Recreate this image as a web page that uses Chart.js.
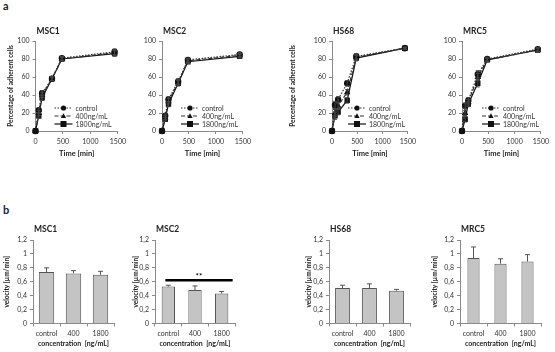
<!DOCTYPE html>
<html>
<head>
<meta charset="utf-8">
<script src="https://cdn.jsdelivr.net/npm/chart.js@4.4.1/dist/chart.umd.min.js"></script>
<style>
  body { margin: 0; background: #fff; width: 555px; height: 352px; overflow: hidden; position: relative; font-family: Lato, "Open Sans", sans-serif; }
  .panel { position: absolute; }
  .tag { position: absolute; font: bold 11px Lato, sans-serif; color: #222; }
</style>
</head>
<body>
<div class="tag" style="left:3px;top:-1px">a</div>
<div class="tag" style="left:3px;top:203px">b</div>
<script>
// ---- data: adhesion over time (top row) ----
const timePoints = [0, 60, 120, 300, 480, 1440];
const seriesNames = ["control", "400ng/mL", "1800ng/mL"];

const msc1Control = [0, 23, 42, 58, 81, 88];
const msc1Low = [0, 20, 40, 58, 80, 87];
const msc1High = [0, 17, 37, 58, 80, 86];
const msc1Err = [0, 3, 3, 2, 2, 3];

const msc2Control = [0, 17, 35, 55, 79, 85];
const msc2Low = [0, 15, 33, 54, 78, 84];
const msc2High = [0, 13, 30, 53, 77, 83];
const msc2Err = [0, 2, 3, 3, 2, 2];

const hs68Control = [0, 29, 35, 53, 83, 92];
const hs68Low = [0, 20, 28, 43, 82, 92];
const hs68High = [0, 17, 21, 34, 81, 92];
const hs68Err = [0, 4, 3, 3, 3, 1];

const mrc5Control = [0, 28, 34, 63, 80, 91];
const mrc5Low = [0, 20, 32, 60, 79, 90];
const mrc5High = [0, 13, 30, 53, 79, 90];
const mrc5Err = [0, 3, 3, 4, 2, 2];

// ---- data: migration velocity (bottom row) ----
const concLabels = ["control", "400", "1800"];
const velMSC1 = [0.74, 0.72, 0.70];
const velErrMSC1 = [0.06, 0.04, 0.05];
const velMSC2 = [0.53, 0.48, 0.43];
const velErrMSC2 = [0.02, 0.06, 0.03];
const velHS68 = [0.51, 0.51, 0.47];
const velErrHS68 = [0.04, 0.06, 0.02];
const velMRC5 = [0.94, 0.86, 0.89];
const velErrMRC5 = [0.16, 0.07, 0.10];
const velTickLabels = ["0", "0,2", "0,4", "0,6", "0,8", "1", "1,2"];
const sigLevelMSC2 = 0.62;

const FONT = "Lato, 'Open Sans', sans-serif";
const INK = "#222";
const AXIS = "#8a8a8a";

function addCanvas(x, y, w, h) {
  const d = document.createElement("div");
  d.className = "panel";
  d.style.cssText = `left:${x}px;top:${y}px;width:${w}px;height:${h}px`;
  const c = document.createElement("canvas");
  d.appendChild(c);
  document.body.appendChild(d);
  return c;
}

function marker(ctx, style, x, y, r) {
  ctx.beginPath();
  if (style === "circle") ctx.arc(x, y, r, 0, Math.PI * 2);
  else if (style === "triangle") {
    ctx.moveTo(x, y - r * 1.1); ctx.lineTo(x + r, y + r * 0.8); ctx.lineTo(x - r, y + r * 0.8); ctx.closePath();
  } else ctx.rect(x - r, y - r, r * 2, r * 2);
  ctx.fill();
}

const panelTitle = {
  id: "panelTitle",
  afterDraw(chart, args, o) {
    if (!o.text) return;
    const ctx = chart.ctx, a = chart.chartArea;
    ctx.save();
    ctx.font = `bold 8.5px ${FONT}`;
    ctx.fillStyle = INK;
    ctx.textBaseline = "middle";
    ctx.fillText(o.text, a.left + 1, a.top + o.dy);
    ctx.restore();
  }
};

const errBars = {
  id: "errBars",
  afterDatasetsDraw(chart, args, o) {
    const ctx = chart.ctx, ys = chart.scales.y;
    chart.data.datasets.forEach((ds, i) => {
      if (!ds.errs) return;
      const meta = chart.getDatasetMeta(i);
      ctx.save();
      ctx.strokeStyle = ds.errColor || "#333";
      ctx.lineWidth = 1;
      meta.data.forEach((el, j) => {
        const e = ds.errs[j];
        if (!e) return;
        const v = ds.data[j].y !== undefined ? ds.data[j].y : ds.data[j];
        const top = ys.getPixelForValue(v + e);
        const bot = o.upOnly ? ys.getPixelForValue(v) : ys.getPixelForValue(v - e);
        const cap = o.cap || 2;
        ctx.beginPath();
        ctx.moveTo(el.x, top); ctx.lineTo(el.x, bot);
        ctx.moveTo(el.x - cap, top); ctx.lineTo(el.x + cap, top);
        if (!o.upOnly) { ctx.moveTo(el.x - cap, bot); ctx.lineTo(el.x + cap, bot); }
        ctx.stroke();
      });
      ctx.restore();
    });
  }
};

const insideLegend = {
  id: "insideLegend",
  afterDraw(chart, args, o) {
    if (!o.show) return;
    const ctx = chart.ctx, a = chart.chartArea;
    chart.data.datasets.forEach((ds, i) => {
      const y = a.bottom - 23 + i * 8;
      const x0 = a.left + o.dx;
      ctx.save();
      ctx.strokeStyle = ds.borderColor;
      ctx.lineWidth = ds.borderWidth;
      ctx.setLineDash(ds.borderDash || []);
      ctx.beginPath(); ctx.moveTo(x0, y); ctx.lineTo(x0 + 18, y); ctx.stroke();
      ctx.fillStyle = ds.pointBackgroundColor;
      marker(ctx, ds.pointStyle, x0 + 9, y, ds.pointRadius);
      ctx.fillStyle = "#333";
      ctx.font = `7px ${FONT}`;
      ctx.textBaseline = "middle";
      ctx.fillText(seriesNames[i], x0 + 21, y + 0.5);
      ctx.restore();
    });
  }
};

const sigBar = {
  id: "sigBar",
  afterDraw(chart, args, o) {
    if (o.value === undefined) return;
    const ctx = chart.ctx, xs = chart.scales.x, ys = chart.scales.y;
    const y = ys.getPixelForValue(o.value);
    const x1 = xs.getPixelForValue(0) - 3, x2 = xs.getPixelForValue(2) + 11;
    ctx.save();
    ctx.strokeStyle = "#000";
    ctx.lineWidth = 2.5;
    ctx.beginPath(); ctx.moveTo(x1, y); ctx.lineTo(x2, y); ctx.stroke();
    ctx.fillStyle = "#000";
    ctx.font = `bold 8px ${FONT}`;
    ctx.textAlign = "center";
    ctx.fillText("**", (x1 + x2) / 2, y - 1);
    ctx.restore();
  }
};

Chart.register(panelTitle, errBars, insideLegend, sigBar);

function axisGrid() {
  return { display: true, drawOnChartArea: false, drawTicks: true, tickLength: 3, color: AXIS };
}

function lineChart(p) {
  const plotTop = 41, plotBottom = 131;
  const [bx, by, bw, bh] = p.box;
  const canvas = addCanvas(bx, by, bw, bh);
  const styles = [
    { pointStyle: "circle", borderDash: [1.5, 1.5], borderColor: "#333" },
    { pointStyle: "triangle", borderDash: [4, 2], borderColor: "#333" },
    { pointStyle: "rect", borderDash: [], borderColor: "#111" }
  ];
  const datasets = p.series.map((vals, i) => ({
    label: seriesNames[i],
    data: timePoints.map((t, j) => ({ x: t, y: vals[j] })),
    errs: p.errs,
    errColor: "#444",
    borderWidth: 1.2,
    pointRadius: i === 2 ? 3 : 2.6,
    pointBackgroundColor: "#111",
    pointBorderColor: "#111",
    clip: false,
    ...styles[i]
  }));
  new Chart(canvas, {
    type: "line",
    data: { datasets },
    options: {
      responsive: true, maintainAspectRatio: false, animation: false, devicePixelRatio: 1,
      layout: { padding: { left: 0, top: plotTop - by, right: bx + bw - p.plot[1], bottom: 0 } },
      plugins: {
        legend: { display: false }, tooltip: { enabled: false },
        panelTitle: { text: p.title, dy: -10 },
        errBars: { cap: 2 },
        insideLegend: { show: true, dx: p.legendDx }
      },
      scales: {
        x: {
          type: "linear", min: 0, max: 1500,
          ticks: { stepSize: 500, font: { size: 7, family: FONT }, color: "#333", padding: 4, maxRotation: 0, callback: v => String(v) },
          grid: axisGrid(), border: { color: AXIS },
          title: { display: true, text: "Time [min]", font: { size: 7.5, weight: "bold", family: FONT }, color: INK, padding: { top: 2, bottom: 4 } },
          afterFit(s) { s.height = by + bh - plotBottom; }
        },
        y: {
          min: 0, max: 100,
          ticks: { stepSize: 20, font: { size: 7, family: FONT }, color: "#333", padding: 3 },
          grid: axisGrid(), border: { color: AXIS },
          title: { display: p.yTitle, text: "Percentage of adherent cells", font: { size: 6.5, weight: "bold", family: FONT }, color: INK, padding: { top: 3, bottom: 2 } },
          afterFit(s) { s.width = p.plot[0] - bx; }
        }
      }
    }
  });
}

function barChart(p) {
  const plotTop = 240, plotBottom = 323.5;
  const [bx, by, bw, bh] = p.box;
  const canvas = addCanvas(bx, by, bw, bh);
  new Chart(canvas, {
    type: "bar",
    data: {
      labels: concLabels,
      datasets: [{
        data: p.values, errs: p.errs, errColor: "#555",
        backgroundColor: "#c4c4c4", borderColor: "#555", borderWidth: 1,
        barPercentage: p.barPct, categoryPercentage: 1
      }]
    },
    options: {
      responsive: true, maintainAspectRatio: false, animation: false, devicePixelRatio: 1,
      layout: { padding: { left: 0, top: plotTop - by, right: bx + bw - p.plot[1], bottom: 0 } },
      plugins: {
        legend: { display: false }, tooltip: { enabled: false },
        panelTitle: { text: p.title, dy: -11 },
        errBars: { cap: 2.5, upOnly: true },
        sigBar: { value: p.sig }
      },
      scales: {
        x: {
          ticks: { font: { size: 7, family: FONT }, color: "#333", padding: 3, maxRotation: 0, minRotation: 0, autoSkip: false },
          grid: { ...axisGrid(), offset: true }, border: { color: AXIS },
          title: { display: true, text: "concentration  [ng/mL]", font: { size: 7, weight: "bold", family: FONT }, color: INK, padding: { top: 2, bottom: 4 } },
          afterFit(s) { s.height = by + bh - plotBottom; }
        },
        y: {
          min: 0, max: 1.2,
          ticks: { stepSize: 0.2, font: { size: 7, family: FONT }, color: "#333", padding: 3, callback: (v, i) => velTickLabels[i] },
          grid: axisGrid(), border: { color: AXIS },
          title: { display: true, text: "velocity [µm/min]", font: { size: 6.5, weight: "bold", family: FONT }, color: INK, padding: { top: 3, bottom: 2 } },
          afterFit(s) { s.width = p.plot[0] - bx; }
        }
      }
    }
  });
}

lineChart({ title: "MSC1", series: [msc1Control, msc1Low, msc1High], errs: msc1Err, box: [4, 24, 126, 138], plot: [35.5, 122.5], yTitle: true, legendDx: 19 });
lineChart({ title: "MSC2", series: [msc2Control, msc2Low, msc2High], errs: msc2Err, box: [135, 24, 120, 138], plot: [162, 248], yTitle: false, legendDx: 19 });
lineChart({ title: "HS68", series: [hs68Control, hs68Low, hs68High], errs: hs68Err, box: [286, 24, 134, 138], plot: [332, 413], yTitle: true, legendDx: 16 });
lineChart({ title: "MRC5", series: [mrc5Control, mrc5Low, mrc5High], errs: mrc5Err, box: [435, 24, 118, 138], plot: [462, 543], yTitle: false, legendDx: 20 });

barChart({ title: "MSC1", values: velMSC1, errs: velErrMSC1, box: [0, 224, 130, 128], plot: [33, 114], barPct: 0.57 });
barChart({ title: "MSC2", values: velMSC2, errs: velErrMSC2, box: [129, 224, 120, 128], plot: [155, 235], barPct: 0.5, sig: sigLevelMSC2 });
barChart({ title: "HS68", values: velHS68, errs: velErrHS68, box: [302, 224, 120, 128], plot: [329, 410], barPct: 0.55 });
barChart({ title: "MRC5", values: velMRC5, errs: velErrMRC5, box: [428, 224, 125, 128], plot: [460, 541], barPct: 0.45 });
</script>
</body>
</html>
